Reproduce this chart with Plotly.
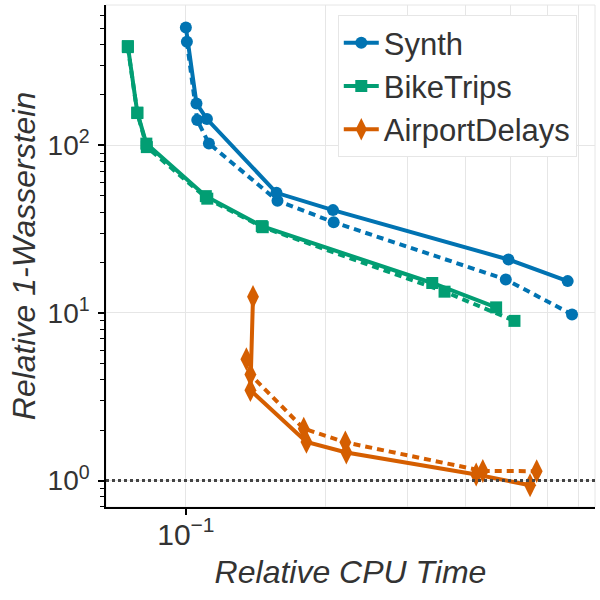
import plotly.graph_objects as go

# ---- data ----
synth_solid_x = [0.1000, 0.1054, 0.1110, 0.1567, 0.2074, 0.4950, 0.6640]
synth_solid_y = [506.0, 178.0, 143.6, 52.1, 41.1, 20.86, 15.49]
synth_dash_x = [0.1005, 0.1058, 0.1121, 0.1575, 0.2081, 0.4885, 0.6785]
synth_dash_y = [415.5, 141.6, 102.8, 46.7, 34.8, 15.85, 9.8]

bike_solid_x = [0.0750, 0.0786, 0.0822, 0.1104, 0.1457, 0.3393, 0.4657]
bike_solid_y = [391.6, 157.0, 102.5, 49.8, 33.0, 15.1, 10.8]
bike_dash_x = [0.0750, 0.0786, 0.0824, 0.1112, 0.1464, 0.3606, 0.5100]
bike_dash_y = [386.0, 156.0, 97.7, 48.1, 32.5, 13.4, 8.97]

air_solid_x = [0.1395, 0.1377, 0.1818, 0.2216, 0.4218, 0.5510]
air_solid_y = [12.48, 3.46, 1.70, 1.47, 1.086, 0.937]
air_dash_x = [0.1350, 0.1377, 0.1794, 0.2205, 0.4359, 0.5694]
air_dash_y = [5.30, 4.29, 2.04, 1.69, 1.14, 1.137]

series_names = ["Synth", "BikeTrips", "AirportDelays"]
colors = ["#0173B2", "#029E73", "#D55E00"]
symbols = ["circle", "square", "diamond-tall"]
msizes = [12, 12, 17]

x_tickvals = [0.1]
x_ticktext = ["10<sup>−1</sup>"]
x_minor_grid = [0.2, 0.3, 0.4, 0.5, 0.6, 0.7]
y_tickvals = [1, 10, 100]
y_ticktext = ["10<sup>0</sup>", "10<sup>1</sup>", "10<sup>2</sup>"]
y_minor = [m * d for d in (0.1, 1, 10, 100) for m in range(2, 10)]

solid = [(synth_solid_x, synth_solid_y), (bike_solid_x, bike_solid_y), (air_solid_x, air_solid_y)]
dashed = [(synth_dash_x, synth_dash_y), (bike_dash_x, bike_dash_y), (air_dash_x, air_dash_y)]

fig = go.Figure()

for i in range(3):
    fig.add_trace(go.Scatter(
        x=dashed[i][0], y=dashed[i][1], mode="lines+markers", showlegend=False,
        line=dict(color=colors[i], width=4, dash="7px,5px"),
        marker=dict(symbol=symbols[i], size=msizes[i], color=colors[i]),
    ))
for i in range(3):
    fig.add_trace(go.Scatter(
        x=solid[i][0], y=solid[i][1], mode="lines+markers", name=series_names[i],
        line=dict(color=colors[i], width=4),
        marker=dict(symbol=symbols[i], size=msizes[i], color=colors[i]),
    ))

fig.add_hline(y=1, line=dict(color="#444444", width=3, dash="dot"))

fig.add_shape(type="rect", xref="paper", yref="paper", x0=0, x1=1, y0=0, y1=1,
              line=dict(color="#e6e6e6", width=1), layer="below")

fig.update_layout(
    width=600, height=600,
    margin=dict(l=106, r=5, t=5, b=93),
    plot_bgcolor="white", paper_bgcolor="white",
    font=dict(family="Liberation Sans, Arial, sans-serif", size=28, color="#333333"),
    legend=dict(x=0.474, y=0.98, xanchor="left", yanchor="top",
                bgcolor="white", bordercolor="#e6e6e6", borderwidth=1,
                font=dict(size=31, color="#333333"), itemwidth=35,
                tracegroupgap=0),
)

fig.update_xaxes(
    type="log", range=[-1.172, -0.119],
    tickvals=x_tickvals, ticktext=x_ticktext,
    ticks="outside", ticklen=6, tickwidth=1.5, tickcolor="black",
    showline=True, linecolor="black", linewidth=1.5,
    showgrid=True, gridcolor="#e6e6e6", gridwidth=1,
    minor=dict(tickvals=x_minor_grid, showgrid=True, gridcolor="#e6e6e6", ticks=""),
    tickfont=dict(size=30, color="#333333"),
    ticklabelstandoff=-6,
    title=dict(text="<i>Relative CPU Time</i>", font=dict(size=32, color="#333333"), standoff=11),
    zeroline=False,
)
fig.update_yaxes(
    type="log", range=[-0.158, 2.838],
    tickvals=y_tickvals, ticktext=y_ticktext,
    ticks="outside", ticklen=6, tickwidth=1.5, tickcolor="black",
    showline=True, linecolor="black", linewidth=1.5,
    showgrid=True, gridcolor="#e6e6e6", gridwidth=1,
    minor=dict(tickvals=y_minor, ticks="outside", ticklen=4, tickcolor="black", tickwidth=1, showgrid=False),
    tickfont=dict(size=28, color="#333333"),
    ticklabelstandoff=3,
    title=dict(text="<i>Relative 1-Wasserstein</i>", font=dict(size=32, color="#333333"), standoff=2),
    zeroline=False,
)

fig.write_html("out.html", post_script="document.body.style.margin='0';",
               config={"displayModeBar": False})
